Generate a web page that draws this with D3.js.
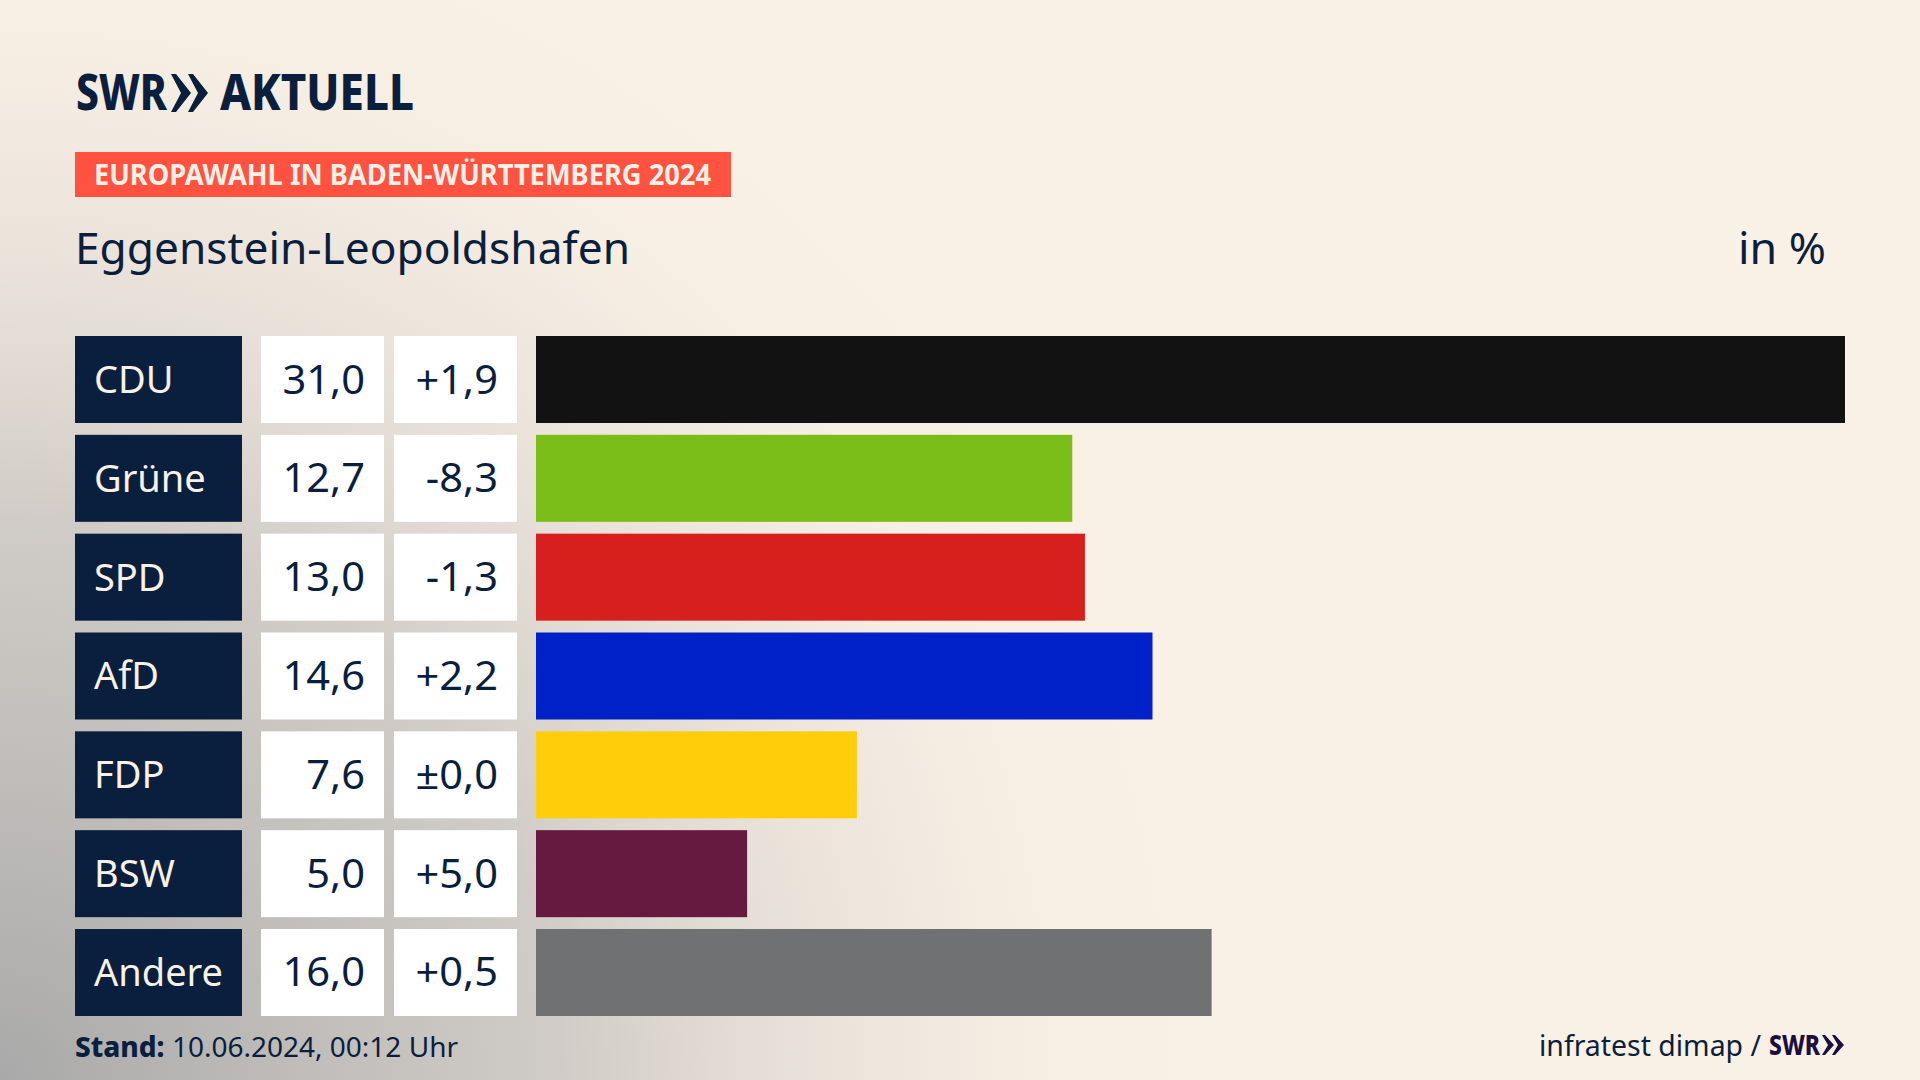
<!DOCTYPE html>
<html>
<head>
<meta charset="utf-8">
<script src="https://cdn.jsdelivr.net/npm/d3@7"></script>
<style>
body { margin: 0; background: #FAF1E6; }
svg { display: block; }
text { font-family: "Noto Sans", sans-serif; fill: #0A1F3D; }
</style>
</head>
<body>
<svg id="chart" width="1920" height="1080"></svg>
<script>
// chart data
const parties = ["CDU", "Grüne", "SPD", "AfD", "FDP", "BSW", "Andere"];
const shares = [31.0, 12.7, 13.0, 14.6, 7.6, 5.0, 16.0];
const changes = ["+1,9", "-8,3", "-1,3", "+2,2", "±0,0", "+5,0", "+0,5"];
const partyColors = ["#121212", "#7ABD18", "#D71F1D", "#0021C8", "#FFCE0A", "#661A3F", "#707173"];

const svg = d3.select("#chart");
const navy = "#0A1F3D";

// background glow from the lower left corner
const defs = svg.append("defs");
const glow = defs.append("radialGradient").attr("id", "glow")
    .attr("gradientUnits", "userSpaceOnUse")
    .attr("cx", 0).attr("cy", 1080).attr("r", 1250);
glow.append("stop").attr("offset", "0").attr("stop-color", "#a9a9a9").attr("stop-opacity", 1);
glow.append("stop").attr("offset", "0.45").attr("stop-color", "#c9c5c1").attr("stop-opacity", 0.85);
glow.append("stop").attr("offset", "1").attr("stop-color", "#FAF1E6").attr("stop-opacity", 0);

svg.append("rect").attr("width", 1920).attr("height", 1080).attr("fill", "#FAF1E6");
svg.append("rect").attr("width", 1920).attr("height", 1080).attr("fill", "url(#glow)");

// squeeze a text to the width it has in the picture
function fit(sel, w) {
    return sel.attr("textLength", w).attr("lengthAdjust", "spacingAndGlyphs");
}

// logo
fit(svg.append("text").attr("x", 76).attr("y", 110).attr("font-size", 49).attr("font-weight", 800).text("SWR"), 91);
fit(svg.append("text").attr("x", 220).attr("y", 110).attr("font-size", 49).attr("font-weight", 800).text("AKTUELL"), 194);
svg.append("path").attr("fill", navy)
    .attr("d", "M171,74 L176,74 L191,93 L176,112 L171,112 L181,93 Z M188,74 L193,74 L208,93 L193,112 L188,112 L198,93 Z");

// red tag and title
svg.append("rect").attr("x", 75).attr("y", 152).attr("width", 656).attr("height", 45).attr("fill", "#FF5240");
fit(svg.append("text").attr("x", 94).attr("y", 185).attr("font-size", 28).attr("font-weight", 700)
    .style("fill", "#FAF1E6").text("EUROPAWAHL IN BADEN-WÜRTTEMBERG 2024"), 617);
fit(svg.append("text").attr("x", 75).attr("y", 264).attr("font-size", 44).text("Eggenstein-Leopoldshafen"), 555);
fit(svg.append("text").attr("x", 1738).attr("y", 264).attr("font-size", 44).text("in %"), 88);

// scales
const y = d3.scaleBand().domain(parties).range([336, 1016]).paddingInner(0.1197).paddingOuter(0);
const x = d3.scaleLinear().domain([0, d3.max(shares)]).range([536, 1845]);

const rows = svg.selectAll(".row").data(parties).join("g")
    .attr("class", "row")
    .attr("transform", d => `translate(0,${y(d)})`);
const mid = y.bandwidth() / 2 + 14;

// party label box
rows.append("rect").attr("x", 75).attr("width", 167).attr("height", y.bandwidth()).attr("fill", navy);
rows.append("text").attr("x", 94).attr("y", mid - 0.5).attr("font-size", 38)
    .style("fill", "#FAF1E6").text(d => d);

// numbers run a little wider than Noto Sans
function widen(sel) {
    sel.each(function () {
        fit(d3.select(this), this.getComputedTextLength() * 1.04);
    });
}

// value boxes
rows.append("rect").attr("x", 261).attr("width", 123).attr("height", y.bandwidth()).attr("fill", "#fff");
rows.append("text").attr("x", 365).attr("y", mid).attr("font-size", 40).attr("text-anchor", "end")
    .text((d, i) => d3.format(".1f")(shares[i]).replace(".", ","))
    .call(widen);
rows.append("rect").attr("x", 394).attr("width", 123).attr("height", y.bandwidth()).attr("fill", "#fff");
rows.append("text").attr("x", 498).attr("y", mid).attr("font-size", 40).attr("text-anchor", "end")
    .text((d, i) => changes[i])
    .call(widen);

// bars
rows.append("rect").attr("x", x(0)).attr("height", y.bandwidth())
    .attr("width", (d, i) => x(shares[i]) - x(0))
    .attr("fill", (d, i) => partyColors[i]);

// footer
const stand = svg.append("text").attr("x", 75).attr("y", 1057).attr("font-size", 28);
stand.append("tspan").attr("font-weight", 800).text("Stand:");
stand.append("tspan").text(" 10.06.2024, 00:12 Uhr");
fit(stand, 383);
fit(svg.append("text").attr("x", 1539).attr("y", 1056).attr("font-size", 29).text("infratest dimap /"), 222);
fit(svg.append("text").attr("x", 1769).attr("y", 1055).attr("font-size", 28).attr("font-weight", 800)
    .style("fill", "#1C0E3F").text("SWR"), 51);
svg.append("path").attr("fill", "#1C0E3F")
    .attr("d", "M1822,1035 L1825,1035 L1834,1045 L1825,1055 L1822,1055 L1828,1045 Z M1832,1035 L1835,1035 L1844,1045 L1835,1055 L1832,1055 L1838,1045 Z");
</script>
</body>
</html>
